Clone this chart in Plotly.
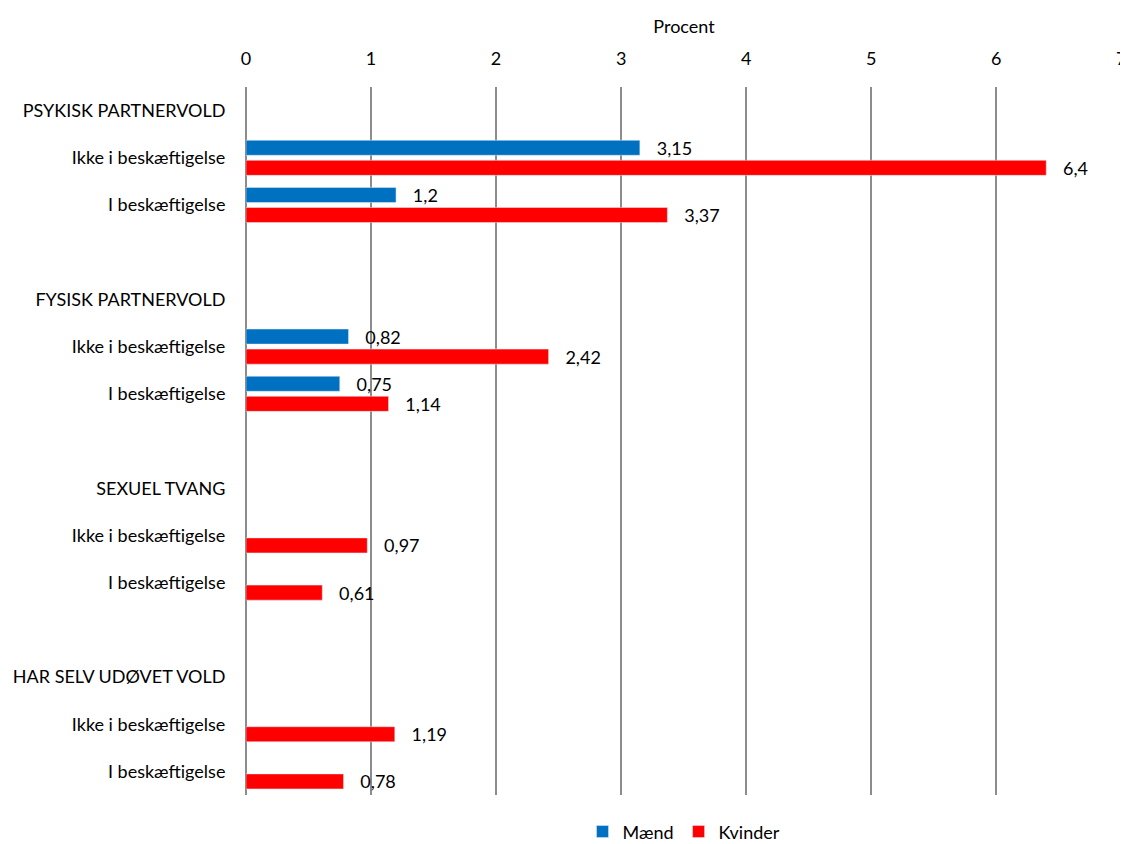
import plotly.graph_objects as go

groups = ["PSYKISK PARTNERVOLD", "FYSISK PARTNERVOLD", "SEXUEL TVANG", "HAR SELV UDØVET VOLD"]
subcats = ["Ikke i beskæftigelse", "I beskæftigelse"]
maend = [3.15, 1.2, 0.82, 0.75, None, None, None, None]
kvinder = [6.4, 3.37, 2.42, 1.14, 0.97, 0.61, 1.19, 0.78]
x_ticks = [0, 1, 2, 3, 4, 5, 6, 7]

# build row layout: header, subcats, blank spacer
row_labels = []
data_rows = []
for gi, g in enumerate(groups):
    row_labels.append(g)
    for s in subcats:
        data_rows.append(len(row_labels))
        row_labels.append(s)
    if gi < len(groups) - 1:
        row_labels.append("")

def fmt(v):
    return None if v is None else ("%g" % v).replace(".", ",")

FONT = "Lato"
FS = 18
fig = go.Figure()
for name, vals, col in [("Mænd", maend, "#0070C0"), ("Kvinder", kvinder, "#FF0000")]:
    fig.add_trace(go.Bar(
        name=name, orientation="h", x=vals, y=data_rows,
        marker_color=col,
        text=[fmt(v) for v in vals], texttemplate="   %{text}",
        textposition="outside", constraintext="none",
        textfont=dict(size=FS, color="black", family=FONT),
        cliponaxis=False,
    ))

fig.update_layout(
    width=1120, height=836,
    margin=dict(l=238, r=6, t=79, b=49, autoexpand=False),
    paper_bgcolor="white", plot_bgcolor="white",
    barmode="group", bargap=0.15, bargroupgap=0.25,
    font=dict(family=FONT, size=FS, color="black"),
    showlegend=True,
    legend=dict(orientation="h", x=0.5, xanchor="center", y=-0.052, yanchor="middle",
                font=dict(size=FS), traceorder="normal", itemwidth=30),
    xaxis=dict(
        side="top", range=[0, 7.006], tickvals=x_ticks, ticktext=[str(t) for t in x_ticks],
        showgrid=True, gridcolor="#8c8c8c", gridwidth=1.5,
        zeroline=True, zerolinecolor="#8c8c8c", zerolinewidth=1.5,
        ticks="outside", ticklen=14, tickcolor="rgba(0,0,0,0)",
        ticklabeloverflow="allow",
        title=dict(text="Procent", font=dict(size=FS), standoff=8),
        showline=False, automargin=False,
    ),
    yaxis=dict(
        range=[len(row_labels) - 0.5, -0.5],
        tickvals=list(range(len(row_labels))), ticktext=row_labels,
        showgrid=False, zeroline=False, showline=False,
        ticks="outside", ticklen=16, tickcolor="rgba(0,0,0,0)",
        automargin=False,
    ),
)

fig.write_html("out.html")
